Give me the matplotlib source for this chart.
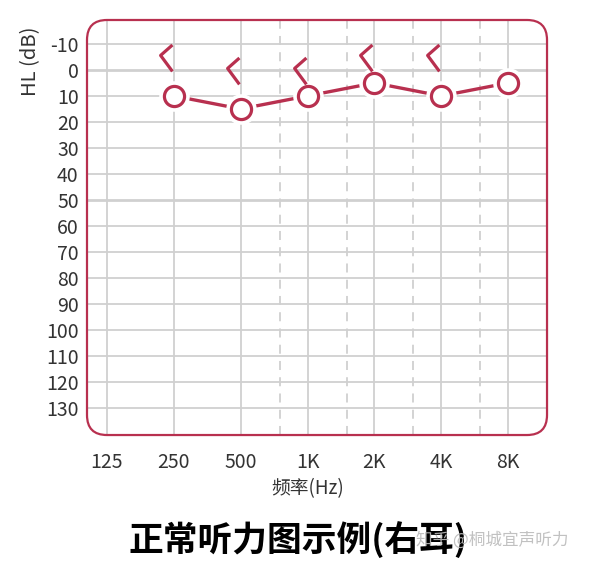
import matplotlib.pyplot as plt
from matplotlib.patches import FancyBboxPatch
from matplotlib.path import Path
from matplotlib.ticker import FixedLocator, NullLocator

plt.rcParams['font.family'] = ['Noto Sans CJK SC', 'DejaVu Sans']

# Audiogram data, right ear
freqs = [125, 250, 500, 1000, 2000, 4000, 8000]
freq_labels = ['125', '250', '500', '1K', '2K', '4K', '8K']
half_octaves = [750, 1500, 3000, 6000]
air_freqs = [250, 500, 1000, 2000, 4000, 8000]
air_db = [10, 15, 10, 5, 10, 5]
bone_freqs = [250, 500, 1000, 2000, 4000]
bone_db = [-5, 0, 0, -5, -5]
db_ticks = list(range(-10, 140, 10))

RED = '#b8304f'
GRID = '#d0d0d0'

fig = plt.figure(figsize=(6, 5.73), dpi=100)
ax = fig.add_axes([0.145, 0.2408, 0.7667, 0.7243])

ax.set_xscale('log', base=2)
ax.set_xlim(125 * 2 ** (-20 / 67), 8000 * 2 ** (39 / 67))
ax.set_ylim(140.4, -19.2)

ax.xaxis.set_major_locator(FixedLocator(freqs))
ax.xaxis.set_minor_locator(NullLocator())
ax.set_xticklabels(freq_labels)
ax.set_yticks(db_ticks)
ax.set_yticklabels([str(v) for v in db_ticks])
ax.tick_params(length=0, labelsize=14, colors='#333333', pad=6)
ax.tick_params(axis='x', pad=12)

for s in ax.spines.values():
    s.set_visible(False)

# rounded frame
frame = FancyBboxPatch((0, 0), 1, 1, boxstyle='round,pad=0,rounding_size=0.0435',
                       mutation_aspect=460 / 415, transform=ax.transAxes,
                       fill=False, edgecolor=RED, lw=1.6, clip_on=False, zorder=5)
ax.add_patch(frame)

# grid
lines = []
for f in freqs:
    lines.append(ax.axvline(f, color=GRID, lw=1.3, zorder=1))
for f in half_octaves:
    lines.append(ax.axvline(f, color=GRID, lw=1.3, ls=(0, (5, 4)), zorder=1))
for v in db_ticks:
    w = 2.0 if v in (0, 50) else 1.3
    lines.append(ax.axhline(v, color=GRID, lw=w, zorder=1))
for ln in lines:
    ln.set_clip_path(frame)

# air conduction: line with gaps around circles
ax.plot(air_freqs, air_db, color=RED, lw=2.4, zorder=2, solid_capstyle='butt')
ax.plot(air_freqs, air_db, 'o', ms=21, mfc='white', mec='white', zorder=3)
ax.plot(air_freqs, air_db, 'o', ms=14.5, mfc='white', mec=RED, mew=2.3, zorder=4)

# bone conduction "<" drawn left of the frequency line
bracket = Path([(-0.15, 0.9), (-1.0, 0.15), (-0.15, -1.0)])
ax.plot(bone_freqs, bone_db, ls='none', marker=bracket, ms=20, mfc='none',
        mec=RED, mew=2.3, zorder=4)

ax.set_ylabel('HL (dB)', fontsize=14.5, color='#333333')
ax.yaxis.set_label_coords(-0.10, 0.90)
ax.set_xlabel('频率(Hz)', fontsize=13.5, color='#333333')
ax.xaxis.set_label_coords(0.48, -0.105)

fig.text(0.497, 0.058, '正常听力图示例(右耳)', fontsize=25, fontweight='bold',
         ha='center', va='center', color='black')
fig.text(0.82, 0.057, '知乎 @桐城宜声听力', fontsize=12, ha='center', va='center',
         color='#bbbbbb', alpha=0.9)

fig.savefig('out.png', dpi=100)
